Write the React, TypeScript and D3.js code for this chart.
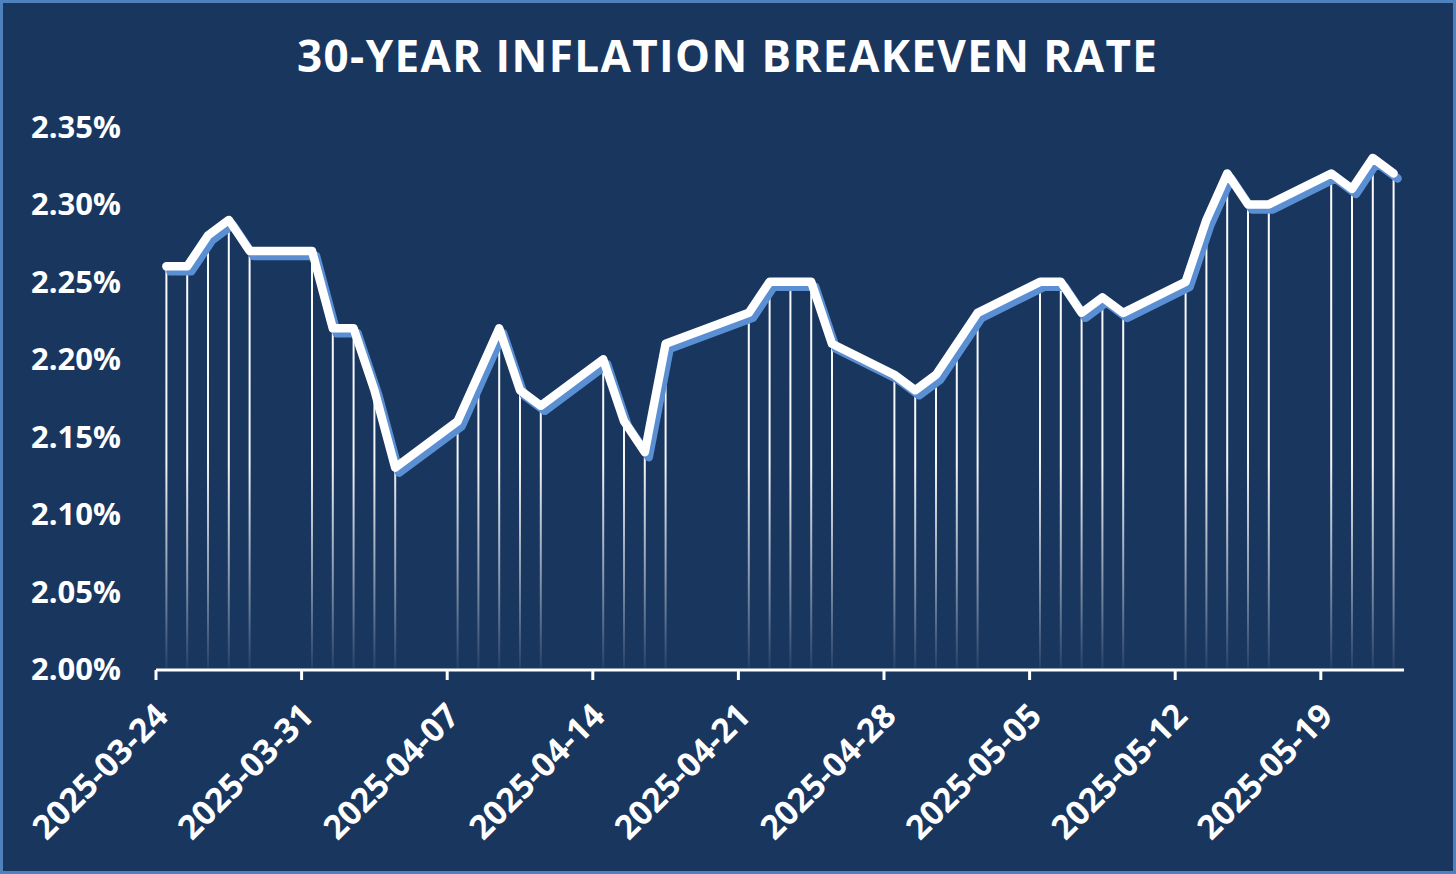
import React from "react";
import * as d3 from "d3";

const TITLE = "30-YEAR INFLATION BREAKEVEN RATE";

const dates: string[] = [
  "2025-03-24", "2025-03-25", "2025-03-26", "2025-03-27", "2025-03-28",
  "2025-03-31", "2025-04-01", "2025-04-02", "2025-04-03", "2025-04-04",
  "2025-04-07", "2025-04-08", "2025-04-09", "2025-04-10", "2025-04-11",
  "2025-04-14", "2025-04-15", "2025-04-16", "2025-04-17",
  "2025-04-21", "2025-04-22", "2025-04-23", "2025-04-24", "2025-04-25",
  "2025-04-28", "2025-04-29", "2025-04-30", "2025-05-01", "2025-05-02",
  "2025-05-05", "2025-05-06", "2025-05-07", "2025-05-08", "2025-05-09",
  "2025-05-12", "2025-05-13", "2025-05-14", "2025-05-15", "2025-05-16",
  "2025-05-19", "2025-05-20", "2025-05-21", "2025-05-22",
];

const values: number[] = [
  2.26, 2.26, 2.28, 2.29, 2.27,
  2.27, 2.22, 2.22, 2.18, 2.13,
  2.16, 2.19, 2.22, 2.18, 2.17,
  2.20, 2.16, 2.14, 2.21,
  2.23, 2.25, 2.25, 2.25, 2.21,
  2.19, 2.18, 2.19, 2.21, 2.23,
  2.25, 2.25, 2.23, 2.24, 2.23,
  2.25, 2.29, 2.32, 2.30, 2.30,
  2.32, 2.31, 2.33, 2.32,
];

const yTicks: number[] = [2.0, 2.05, 2.1, 2.15, 2.2, 2.25, 2.3, 2.35];
const xTickLabels: string[] = [
  "2025-03-24", "2025-03-31", "2025-04-07", "2025-04-14", "2025-04-21",
  "2025-04-28", "2025-05-05", "2025-05-12", "2025-05-19",
];
const domainStart = "2025-03-24";
const domainEnd = "2025-05-23";

const W = 1456;
const H = 874;
const BG = "#19365f";
const BORDER = "#4f81bd";
const SHADOW = "#5b8fd3";
const FONT = "'Open Sans', 'Noto Sans', sans-serif";

const parse = (s: string) => {
  const [y, m, d] = s.split("-").map(Number);
  return new Date(Date.UTC(y, m - 1, d));
};
const HALF_DAY = 12 * 3600 * 1000;

export default function App() {
  const x = d3
    .scaleUtc()
    .domain([parse(domainStart), parse(domainEnd)])
    .range([156, 1404]);
  const y = d3.scaleLinear().domain([2.0, 2.35]).range([669, 127]);

  const pts = dates.map((d, i) => ({
    x: x(new Date(parse(d).getTime() + HALF_DAY)),
    y: y(values[i]),
  }));

  const line = d3
    .line<{ x: number; y: number }>()
    .x((p) => p.x)
    .y((p) => p.y);
  const path = line(pts) || "";
  const axisY = y(2.0) + 1;

  return (
    <svg
      width={W}
      height={H}
      style={{ position: "absolute", left: 0, top: 0, display: "block" }}
    >
      <defs>
        <linearGradient
          id="dropGrad"
          gradientUnits="userSpaceOnUse"
          x1={0}
          y1={y(2.35)}
          x2={0}
          y2={axisY}
        >
          <stop offset="0%" stopColor="#ffffff" stopOpacity={1} />
          <stop offset="62%" stopColor="#ffffff" stopOpacity={0.95} />
          <stop offset="82%" stopColor="#ffffff" stopOpacity={0.5} />
          <stop offset="100%" stopColor="#ffffff" stopOpacity={0.05} />
        </linearGradient>
      </defs>
      <rect x={0} y={0} width={W} height={H} fill={BG} />
      <rect
        x={1.5}
        y={1.5}
        width={W - 3}
        height={H - 3}
        fill="none"
        stroke={BORDER}
        strokeWidth={3}
      />
      <text
        x={727}
        y={72}
        textAnchor="middle"
        fill="#ffffff"
        fontFamily={FONT}
        fontWeight={700}
        fontSize={44}
        textLength={860}
        lengthAdjust="spacing"
      >
        {TITLE}
      </text>

      {yTicks.map((t) => (
        <text
          key={t}
          x={121}
          y={y(t) + 11}
          textAnchor="end"
          fill="#ffffff"
          fontFamily={FONT}
          fontWeight={700}
          fontSize={31}
        >
          {t.toFixed(2) + "%"}
        </text>
      ))}

      {pts.map((p, i) => (
        <line
          key={"d" + i}
          x1={p.x}
          x2={p.x}
          y1={p.y}
          y2={axisY - 2}
          stroke="url(#dropGrad)"
          strokeWidth={2}
        />
      ))}

      <path
        d={path}
        transform="translate(4,5)"
        fill="none"
        stroke={SHADOW}
        strokeWidth={8.5}
        strokeLinejoin="round"
        strokeLinecap="round"
      />
      <path
        d={path}
        fill="none"
        stroke="#ffffff"
        strokeWidth={8.5}
        strokeLinejoin="round"
        strokeLinecap="round"
      />

      <line
        x1={x(parse(domainStart))}
        x2={x(parse(domainEnd))}
        y1={axisY}
        y2={axisY}
        stroke="#ffffff"
        strokeWidth={3}
      />
      {xTickLabels.map((s) => {
        const tx = x(parse(s));
        return (
          <g key={s}>
            <line
              x1={tx}
              x2={tx}
              y1={axisY}
              y2={axisY + 10}
              stroke="#ffffff"
              strokeWidth={3}
            />
            <text
              transform={`translate(${tx + 14},${718}) rotate(-45)`}
              textAnchor="end"
              fill="#ffffff"
              fontFamily={FONT}
              fontWeight={700}
              fontSize={33.5}
            >
              {s}
            </text>
          </g>
        );
      })}
    </svg>
  );
}
